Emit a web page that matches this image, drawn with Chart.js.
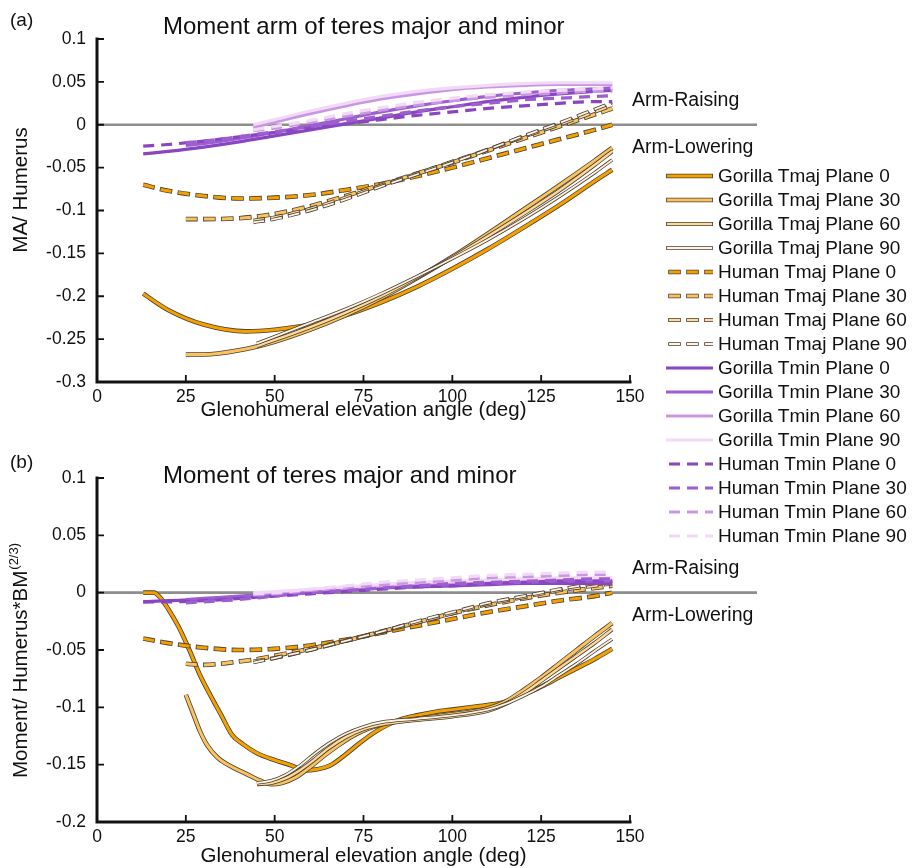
<!DOCTYPE html>
<html><head><meta charset="utf-8">
<script src="https://cdn.jsdelivr.net/npm/chart.js@4.4.1/dist/chart.umd.min.js"></script>
<style>
html,body{margin:0;padding:0;background:#fff;}
#wrap{position:relative;width:917px;height:868px;overflow:hidden;background:#fff;}
#ca{position:absolute;left:0;top:0;}
#cb{position:absolute;left:0;top:430px;}
#legend{position:absolute;left:666px;top:164px;font-family:'Liberation Sans',Arial,sans-serif;font-size:19px;color:#111;}
.row{position:relative;height:24px;width:250px;white-space:nowrap;}
.row canvas{position:absolute;left:0;top:0;}
.row span{position:absolute;left:52px;top:0;line-height:24px;}
</style></head>
<body><div id="wrap">
<canvas id="ca" width="917" height="430" style="width:917px;height:430px"></canvas>
<canvas id="cb" width="917" height="438" style="width:917px;height:438px"></canvas>
<div id="legend"></div>
</div>
<script>
// ---------- tick labels ----------
const xTicks = [0, 25, 50, 75, 100, 125, 150];
const yTicksA = [0.1, 0.05, 0, -0.05, -0.1, -0.15, -0.2, -0.25, -0.3];
const yTicksB = [0.1, 0.05, 0, -0.05, -0.1, -0.15, -0.2];

// ---------- series names ----------
const seriesNames = [
  'Gorilla Tmaj Plane 0','Gorilla Tmaj Plane 30','Gorilla Tmaj Plane 60','Gorilla Tmaj Plane 90',
  'Human Tmaj Plane 0','Human Tmaj Plane 30','Human Tmaj Plane 60','Human Tmaj Plane 90',
  'Gorilla Tmin Plane 0','Gorilla Tmin Plane 30','Gorilla Tmin Plane 60','Gorilla Tmin Plane 90',
  'Human Tmin Plane 0','Human Tmin Plane 30','Human Tmin Plane 60','Human Tmin Plane 90'
];

// ---------- x grids (deg) ----------
const X13 = [13,20,30,40,50,60,70,80,90,100,110,120,130,140,145];
const XA_G0 = [13,20,30,42,50,60,70,80,90,100,110,120,130,140,145];
const X25 = [25,30,40,50,60,70,80,90,100,110,120,130,140,145];
const X44 = [44,50,60,70,80,90,100,110,120,130,140,145];
const X45 = [45,50,60,70,80,90,100,110,120,130,140,145];
const XB_G0 = [13,16,18,20,23,26,29,32,35,38,41,45,50,55,58,62,66,70,74,78,82,86,90,95,100,105,110,115,120,125,130,135,140,145];
const XB_G30 = [25,27,29,31,34,38,42,46,49,52,56,60,64,68,72,76,80,85,90,95,100,105,110,115,120,125,130,135,140,145];
const XB_G45 = [45,49,53,57,61,65,70,75,80,90,100,110,115,120,125,130,135,140,145];
const XB_H25 = [25,30,35,40,45,50,55,60,70,80,90,100,110,120,130,140,145];

// ---------- (a) moment arm ----------
const a_gTmaj0  = [-0.197,-0.216,-0.233,-0.241,-0.239,-0.233,-0.222,-0.207,-0.189,-0.168,-0.145,-0.120,-0.094,-0.066,-0.0525];
const a_gTmaj30 = [-0.268,-0.268,-0.263,-0.253,-0.239,-0.222,-0.202,-0.179,-0.154,-0.127,-0.099,-0.071,-0.042,-0.027];
const a_gTmaj60 = [-0.258,-0.251,-0.236,-0.219,-0.200,-0.178,-0.155,-0.130,-0.104,-0.077,-0.047,-0.031];
const a_gTmaj90 = [-0.255,-0.247,-0.231,-0.215,-0.197,-0.177,-0.156,-0.134,-0.110,-0.084,-0.056,-0.041];
const a_hTmaj0  = [-0.070,-0.077,-0.083,-0.086,-0.085,-0.082,-0.076,-0.069,-0.060,-0.050,-0.039,-0.028,-0.017,-0.006,0.000];
const a_hTmaj30 = [-0.110,-0.110,-0.109,-0.104,-0.095,-0.083,-0.070,-0.057,-0.044,-0.030,-0.016,-0.002,0.012,0.019];
const a_hTmaj60 = [-0.112,-0.108,-0.098,-0.085,-0.071,-0.057,-0.043,-0.029,-0.014,0.000,0.015,0.023];
const a_hTmaj90 = [-0.114,-0.110,-0.100,-0.087,-0.072,-0.058,-0.044,-0.029,-0.013,0.002,0.018,0.026];
const a_gTmin0  = [-0.034,-0.031,-0.026,-0.020,-0.013,-0.006,0.001,0.008,0.015,0.021,0.027,0.032,0.036,0.039,0.040];
const a_gTmin30 = [-0.024,-0.022,-0.016,-0.009,-0.001,0.007,0.015,0.022,0.028,0.033,0.037,0.040,0.042,0.043];
const a_gTmin60 = [-0.003,0.003,0.013,0.022,0.030,0.036,0.041,0.044,0.046,0.047,0.047,0.047];
const a_gTmin90 = [0.000,0.006,0.016,0.025,0.033,0.039,0.043,0.046,0.048,0.049,0.049,0.049];
const a_hTmin0  = [-0.025,-0.023,-0.019,-0.014,-0.009,-0.004,0.001,0.006,0.011,0.015,0.019,0.022,0.025,0.027,0.027];
const a_hTmin30 = [-0.021,-0.019,-0.014,-0.008,-0.002,0.004,0.010,0.016,0.021,0.025,0.029,0.031,0.033,0.034];
const a_hTmin60 = [-0.007,-0.004,0.003,0.010,0.017,0.023,0.028,0.032,0.035,0.037,0.039,0.039];
const a_hTmin90 = [-0.006,-0.002,0.005,0.013,0.020,0.026,0.031,0.035,0.038,0.040,0.042,0.043];

// ---------- (b) moment ----------
const b_gTmaj0  = [0.000,0.000,-0.005,-0.014,-0.030,-0.050,-0.072,-0.090,-0.107,-0.124,-0.132,-0.140,-0.146,-0.151,-0.155,-0.154,-0.150,-0.141,-0.131,-0.122,-0.115,-0.110,-0.107,-0.104,-0.102,-0.100,-0.098,-0.095,-0.089,-0.082,-0.074,-0.066,-0.058,-0.049];
const b_gTmaj30 = [-0.089,-0.105,-0.121,-0.133,-0.144,-0.152,-0.158,-0.164,-0.167,-0.166,-0.161,-0.152,-0.142,-0.133,-0.125,-0.119,-0.115,-0.112,-0.110,-0.108,-0.106,-0.104,-0.101,-0.095,-0.085,-0.074,-0.062,-0.050,-0.038,-0.0265];
const b_gTmaj60 = [-0.167,-0.166,-0.162,-0.155,-0.146,-0.136,-0.126,-0.119,-0.115,-0.111,-0.108,-0.103,-0.097,-0.088,-0.077,-0.066,-0.055,-0.044,-0.032];
const b_gTmaj90 = [-0.166,-0.164,-0.159,-0.151,-0.141,-0.132,-0.123,-0.117,-0.113,-0.110,-0.107,-0.102,-0.097,-0.090,-0.082,-0.072,-0.062,-0.051,-0.0405];
const b_hTmaj0  = [-0.040,-0.044,-0.048,-0.050,-0.049,-0.046,-0.041,-0.035,-0.029,-0.023,-0.017,-0.012,-0.007,-0.003,0.000];
const b_hTmaj30 = [-0.062,-0.063,-0.062,-0.060,-0.058,-0.055,-0.052,-0.049,-0.042,-0.034,-0.026,-0.018,-0.011,-0.005,0.000,0.004,0.006];
const b_hTmaj60 = [-0.060,-0.057,-0.050,-0.042,-0.034,-0.026,-0.018,-0.010,-0.004,0.002,0.006,0.008];
const b_hTmaj90 = [-0.061,-0.057,-0.050,-0.042,-0.034,-0.025,-0.017,-0.009,-0.003,0.003,0.008,0.010];
const b_gTmin0  = [-0.008,-0.007,-0.006,-0.004,-0.002,0.000,0.002,0.004,0.005,0.006,0.007,0.008,0.008,0.008,0.008];
const b_gTmin30 = [-0.006,-0.005,-0.003,-0.001,0.001,0.003,0.005,0.006,0.007,0.008,0.009,0.010,0.010,0.010];
const b_gTmin60 = [-0.001,0.000,0.002,0.004,0.006,0.008,0.009,0.010,0.011,0.012,0.012,0.012];
const b_gTmin90 = [0.000,0.001,0.003,0.005,0.007,0.009,0.010,0.011,0.012,0.013,0.013,0.013];
const b_hTmin0  = [-0.008,-0.008,-0.007,-0.005,-0.003,-0.001,0.001,0.003,0.005,0.006,0.008,0.009,0.010,0.010,0.010];
const b_hTmin30 = [-0.009,-0.008,-0.006,-0.003,0.000,0.002,0.004,0.006,0.008,0.009,0.010,0.011,0.012,0.012];
const b_hTmin60 = [-0.002,-0.001,0.002,0.005,0.007,0.009,0.011,0.013,0.014,0.015,0.016,0.016];
const b_hTmin90 = [-0.001,0.000,0.003,0.006,0.009,0.011,0.013,0.015,0.016,0.017,0.018,0.018];

const topX = [XA_G0,X25,X45,X45, X13,X25,X44,X44, X13,X25,X44,X44, X13,X25,X44,X44];
const topY = [a_gTmaj0,a_gTmaj30,a_gTmaj60,a_gTmaj90, a_hTmaj0,a_hTmaj30,a_hTmaj60,a_hTmaj90,
              a_gTmin0,a_gTmin30,a_gTmin60,a_gTmin90, a_hTmin0,a_hTmin30,a_hTmin60,a_hTmin90];
const botX = [XB_G0,XB_G30,XB_G45,XB_G45, X13,XB_H25,X44,X44, X13,X25,X44,X44, X13,X25,X44,X44];
const botY = [b_gTmaj0,b_gTmaj30,b_gTmaj60,b_gTmaj90, b_hTmaj0,b_hTmaj30,b_hTmaj60,b_hTmaj90,
              b_gTmin0,b_gTmin30,b_gTmin60,b_gTmin90, b_hTmin0,b_hTmin30,b_hTmin60,b_hTmin90];

// ---------- styles ----------
const FONT = "'Liberation Sans', Arial, Helvetica, sans-serif";
const ORANGES = ['#F4A000','#FBC35E','#FDD99C','#FFF2DE'];
const PURPLES = ['#8A45C2','#9D5ECF','#C996E2','#F2D9F7'];
const OUTLINE = '#4a4034';
const DASH = [11, 7];
const ODASH = [12.6, 5.4];
const TMAJ_W = [3, 3, 2.4, 1.8];
const styles = seriesNames.map((n, i) => {
  const tmaj = i < 8;
  const k = i % 4;
  return {
    color: tmaj ? ORANGES[k] : PURPLES[k],
    width: tmaj ? TMAJ_W[k] : 3.2,
    dash: Math.floor(i / 4) % 2 === 1,
    outline: tmaj
  };
});

function zip(xs, ys) { return xs.map((x, i) => ({x: x, y: ys[i]})); }

function buildDatasets(XS, YS) {
  const ds = [];
  styles.forEach((s, i) => {
    const pts = zip(XS[i], YS[i]);
    const base = {data: pts, pointRadius: 0, fill: false, tension: 0.4,
      cubicInterpolationMode: 'monotone', borderCapStyle: 'butt', borderJoinStyle: 'round'};
    if (s.outline) {
      ds.push(Object.assign({}, base, {label: seriesNames[i] + ' outline', borderColor: OUTLINE,
        borderWidth: s.width + 1.6, borderDash: s.dash ? ODASH : [], borderDashOffset: s.dash ? 0.8 : 0,
        order: (40 - i) * 2 + 1}));
    }
    ds.push(Object.assign({}, base, {label: seriesNames[i], borderColor: s.color,
      borderWidth: s.width, borderDash: s.dash ? DASH : [], borderDashOffset: 0,
      order: (40 - i) * 2}));
  });
  return ds;
}

const decor = {
  id: 'decor',
  beforeDatasetsDraw(chart, args, o) {
    const {ctx, scales: {x, y}} = chart;
    const y0 = y.getPixelForValue(0);
    ctx.save();
    ctx.strokeStyle = '#8e8e8e'; ctx.lineWidth = 2.6;
    ctx.beginPath(); ctx.moveTo(x.left, y0); ctx.lineTo(x.right + 127, y0); ctx.stroke();
    ctx.restore();
  },
  afterDraw(chart, args, o) {
    const {ctx, scales: {x, y}} = chart;
    ctx.save();
    ctx.strokeStyle = '#111'; ctx.lineWidth = 3; ctx.lineCap = 'square';
    ctx.beginPath(); ctx.moveTo(x.left, y.top); ctx.lineTo(x.left, y.bottom); ctx.lineTo(x.right, y.bottom); ctx.stroke();
    ctx.lineWidth = 1.8; ctx.lineCap = 'butt';
    ctx.beginPath();
    y.ticks.forEach(t => { const p = y.getPixelForValue(t.value); ctx.moveTo(x.left, p); ctx.lineTo(x.left + 7, p); });
    x.ticks.forEach(t => { const p = x.getPixelForValue(t.value); ctx.moveTo(p, y.bottom); ctx.lineTo(p, y.bottom - 7); });
    ctx.stroke();

    ctx.fillStyle = '#111';
    ctx.textBaseline = 'middle';
    ctx.textAlign = 'left';
    ctx.font = '19px ' + FONT;
    ctx.fillText(o.panel, 10, o.panelY);
    ctx.font = '24px ' + FONT;
    ctx.fillText(o.title, 163, o.titleY);
    ctx.font = '20.5px ' + FONT;
    ctx.textAlign = 'center';
    ctx.fillText(o.xTitle, (x.left + x.right) / 2, o.xTitleY);

    // y title
    ctx.save();
    ctx.translate(21, o.yTitleY);
    ctx.rotate(-Math.PI / 2);
    ctx.font = '20.5px ' + FONT;
    const w1 = ctx.measureText(o.yTitle).width;
    let w2 = 0;
    if (o.ySup) { ctx.font = '13px ' + FONT; w2 = ctx.measureText(o.ySup).width; }
    const start = -(w1 + w2) / 2;
    ctx.textAlign = 'left';
    ctx.font = '20.5px ' + FONT;
    ctx.fillText(o.yTitle, start, 0);
    if (o.ySup) { ctx.font = '13px ' + FONT; ctx.fillText(o.ySup, start + w1 + 1, -7); }
    ctx.restore();

    const y0 = y.getPixelForValue(0);
    ctx.font = '19.5px ' + FONT;
    ctx.textAlign = 'left';
    ctx.fillText('Arm-Raising', x.right + 2, y0 - 24);
    ctx.fillText('Arm-Lowering', x.right + 2, y0 + 23);
    ctx.restore();
  }
};

function makeChart(id, XS, YS, yTicks, opts) {
  return new Chart(document.getElementById(id), {
    type: 'line',
    data: {datasets: buildDatasets(XS, YS)},
    plugins: [decor],
    options: {
      responsive: false, animation: false, events: [],
      layout: {padding: {left: 0, right: 287, top: opts.padTop, bottom: 0}},
      plugins: {legend: {display: false}, tooltip: {enabled: false}, decor: opts},
      scales: {
        x: {type: 'linear', min: 0, max: 150,
          grid: {display: false, drawTicks: false}, border: {display: false},
          afterBuildTicks: s => { s.ticks = xTicks.map(v => ({value: v})); },
          afterFit: s => { s.height = opts.xH; },
          ticks: {color: '#111', font: {family: FONT, size: 17.5}, padding: 5, maxRotation: 0, autoSkip: false}
        },
        y: {type: 'linear', min: yTicks[yTicks.length - 1], max: yTicks[0],
          grid: {display: false, drawTicks: false}, border: {display: false},
          afterBuildTicks: s => { s.ticks = yTicks.map(v => ({value: v})); },
          afterFit: s => { s.width = 97; },
          ticks: {color: '#111', font: {family: FONT, size: 17.5}, padding: 11,
            callback: v => String(+Number(v).toFixed(3))}
        }
      }
    }
  });
}

makeChart('ca', topX, topY, yTicksA, {padTop: 39, xH: 48, panel: '(a)', panelY: 21,
  title: 'Moment arm of teres major and minor', titleY: 27,
  xTitle: 'Glenohumeral elevation angle (deg)', xTitleY: 410,
  yTitle: 'MA/ Humerus', ySup: '', yTitleY: 190});
makeChart('cb', botX, botY, yTicksB, {padTop: 48, xH: 46, panel: '(b)', panelY: 33,
  title: 'Moment of teres major and minor', titleY: 46,
  xTitle: 'Glenohumeral elevation angle (deg)', xTitleY: 426,
  yTitle: 'Moment/ Humerus*BM', ySup: '(2/3)', yTitleY: 231});

// ---------- legend ----------
function drawSample(cv, s) {
  const c = cv.getContext('2d');
  c.lineCap = 'butt';
  const yy = 12;
  if (s.outline) {
    c.strokeStyle = OUTLINE; c.lineWidth = s.width + 1.6;
    c.setLineDash(s.dash ? ODASH : []); c.lineDashOffset = s.dash ? 0.8 - 3 : 0;
    c.beginPath(); c.moveTo(0, yy); c.lineTo(47, yy); c.stroke();
  }
  c.strokeStyle = s.color; c.lineWidth = s.width;
  c.setLineDash(s.dash ? DASH : []); c.lineDashOffset = s.dash ? -3 : 0;
  c.beginPath(); c.moveTo(s.outline && !s.dash ? 0.8 : 0, yy); c.lineTo(s.outline && !s.dash ? 46.2 : 47, yy); c.stroke();
}
const legendEl = document.getElementById('legend');
styles.forEach((s, i) => {
  const row = document.createElement('div'); row.className = 'row';
  const cv = document.createElement('canvas'); cv.width = 48; cv.height = 24;
  drawSample(cv, s);
  row.appendChild(cv);
  const sp = document.createElement('span'); sp.textContent = seriesNames[i];
  row.appendChild(sp);
  legendEl.appendChild(row);
});
</script>
</body></html>
